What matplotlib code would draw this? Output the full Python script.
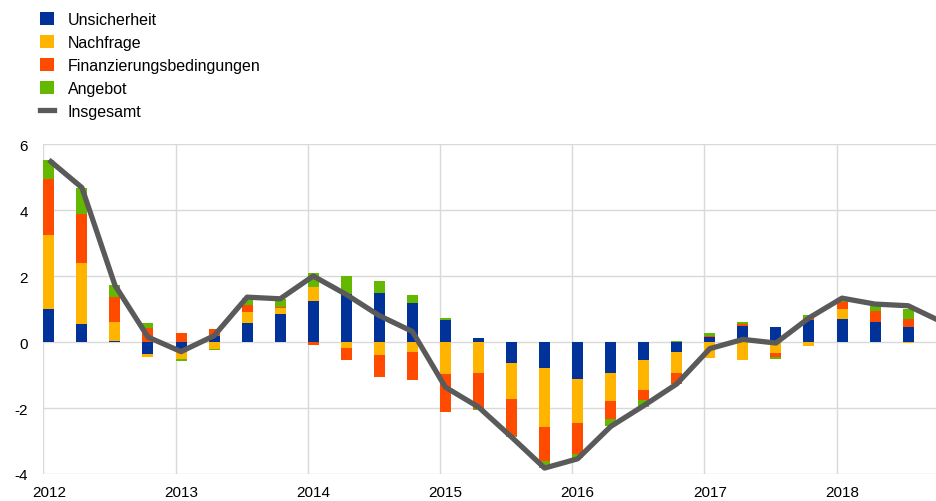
import numpy as np
import matplotlib
matplotlib.use("Agg")
import matplotlib.pyplot as plt
from matplotlib.patches import Patch
from matplotlib.lines import Line2D

plt.rcParams['font.family'] = ['Liberation Sans', 'DejaVu Sans']

years = [2012, 2013, 2014, 2015, 2016, 2017, 2018]
n_quarters = 28

unsicherheit = [1.00, 0.56, 0.03, -0.37, -0.30, 0.18, 0.58, 0.85, 1.24, 1.47, 1.48, 1.17, 0.66, 0.12,
                -0.64, -0.79, -1.13, -0.94, -0.54, -0.30, 0.15, 0.48, 0.46, 0.67, 0.69, 0.61, 0.46, 0.45]
nachfrage = [2.23, 1.85, 0.57, -0.07, -0.22, -0.22, 0.33, 0.17, 0.44, -0.19, -0.39, -0.30, -0.97, -0.94,
             -1.08, -1.78, -1.32, -0.84, -0.92, -0.64, -0.47, -0.54, -0.33, -0.12, 0.30, 0.00, -0.03, -0.05]
finanzierung = [1.70, 1.46, 0.76, 0.44, 0.28, 0.23, 0.20, 0.05, -0.09, -0.36, -0.66, -0.86, -1.15, -1.10,
                -1.12, -1.03, -0.94, -0.54, -0.31, -0.33, 0.03, 0.06, -0.12, 0.05, 0.22, 0.33, 0.24, 0.12]
angebot = [0.58, 0.81, 0.36, 0.14, -0.05, -0.02, 0.23, 0.24, 0.40, 0.52, 0.38, 0.27, 0.08, -0.03,
           -0.04, -0.22, -0.13, -0.24, -0.20, 0.02, 0.08, 0.06, -0.06, 0.11, 0.10, 0.17, 0.31, 0.10]
insgesamt = [5.52, 4.68, 1.72, 0.15, -0.29, 0.19, 1.36, 1.31, 2.00, 1.44, 0.80, 0.32, -1.37, -1.97,
             -2.88, -3.82, -3.54, -2.56, -1.93, -1.27, -0.20, 0.08, -0.03, 0.73, 1.33, 1.15, 1.10, 0.62]

series = [
    ("Unsicherheit", unsicherheit, "#003299"),
    ("Nachfrage", nachfrage, "#FFB400"),
    ("Finanzierungsbedingungen", finanzierung, "#FF4B00"),
    ("Angebot", angebot, "#65B800"),
]
line_color = "#5A5A5A"

# quarterly positions (first month of each quarter), points at mid of that month
x_start = years[0] + np.arange(n_quarters) * 0.25
bar_w = 1 / 12
x_mid = x_start + bar_w / 2

fig = plt.figure(figsize=(9.36, 5.02), dpi=100)
ax = fig.add_axes([0.0463, 0.0538, 1 - 0.0463, 0.711 - 0.0538])

pos_base = np.zeros(n_quarters)
neg_base = np.zeros(n_quarters)
for name, vals, col in series:
    v = np.array(vals)
    pos = np.where(v > 0, v, 0)
    neg = np.where(v < 0, v, 0)
    ax.bar(x_start, pos, width=bar_w, bottom=pos_base, align='edge', color=col, zorder=2, linewidth=0)
    ax.bar(x_start, neg, width=bar_w, bottom=neg_base, align='edge', color=col, zorder=2, linewidth=0)
    pos_base += pos
    neg_base += neg

ax.plot(x_mid, insgesamt, color=line_color, lw=3.8, zorder=3, solid_joinstyle='round', solid_capstyle='butt')

ax.set_ylim(-4, 6)
ax.set_xlim(years[0], years[0] + (936 - 43.3) / 132.2)
ax.set_yticks(np.arange(-4, 7, 2))
ax.set_yticklabels([f"{t:d}" for t in np.arange(-4, 7, 2)])
ax.set_xticks(years)
ax.set_xticklabels([])
ax.set_xticks(np.array(years) + bar_w / 2, minor=True)
ax.set_xticklabels([str(y) for y in years], minor=True)
ax.tick_params(axis='both', which='both', length=0, labelsize=11, colors='#000000')
ax.tick_params(axis='y', pad=11)
ax.tick_params(axis='x', which='minor', pad=8)
ax.grid(True, which='major', color='#D9D9D9', lw=1.0, zorder=0)
for s in ax.spines.values():
    s.set_visible(False)

handles = [Patch(facecolor=c, edgecolor='none') for _, _, c in series]
handles.append(Line2D([0], [0], color=line_color, lw=3.8))
labels = [n for n, _, _ in series] + ["Insgesamt"]
fig.legend(handles, labels, loc='upper left', bbox_to_anchor=(0.0375, 0.983), frameon=False,
           fontsize=11.5, handlelength=0.9, handleheight=0.85, handletextpad=0.85,
           labelspacing=0.49, borderaxespad=0, borderpad=0.3)

fig.savefig("out.png", dpi=100)
